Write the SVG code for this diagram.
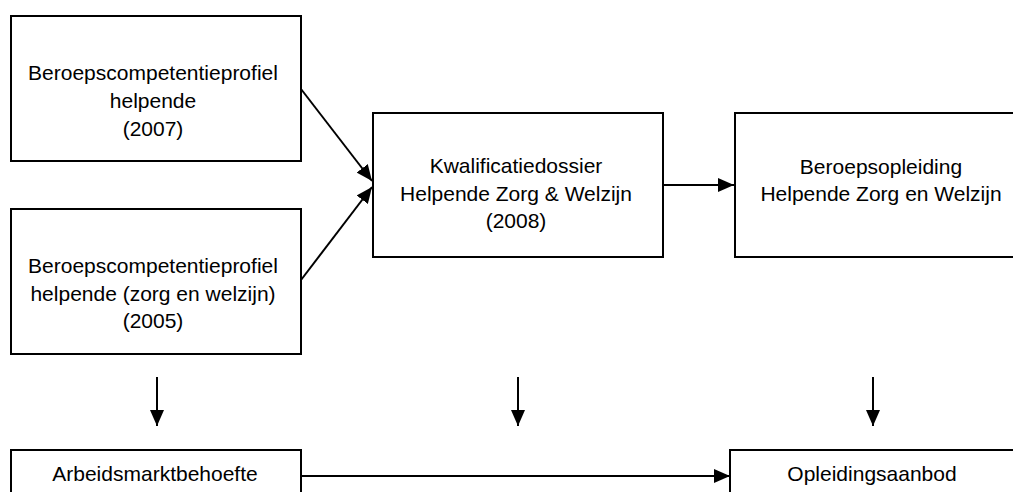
<svg xmlns="http://www.w3.org/2000/svg" width="1013" height="492" viewBox="0 0 1013 492">
<defs>
<style>
.box{fill:#fff;stroke:#000;stroke-width:2}
.t{font-family:"Liberation Sans",Arial,sans-serif;font-size:21px;fill:#000;text-anchor:middle}
.c{stroke:#000;stroke-width:2;fill:none;marker-end:url(#ah)}
</style>
<marker id="ah" markerUnits="userSpaceOnUse" markerWidth="16" markerHeight="14" refX="16" refY="7" orient="auto">
<path d="M0,0 L16,7 L0,14 z" fill="#000"/>
</marker>
</defs>
<rect width="1013" height="492" fill="#fff"/>
<g id="connectors">
<line class="c" x1="301" y1="89" x2="372" y2="181"/>
<line class="c" x1="301" y1="280" x2="372" y2="187"/>
<line class="c" x1="663" y1="185" x2="734" y2="185"/>
<line class="c" x1="157" y1="377" x2="157" y2="426"/>
<line class="c" x1="518" y1="377" x2="518" y2="426"/>
<line class="c" x1="873" y1="377" x2="873" y2="426"/>
<line class="c" x1="301" y1="476" x2="730" y2="476"/>
</g>
<g id="n1">
<rect class="box" x="11" y="16" width="290" height="145"/>
<text class="t" x="153" y="80">Beroepscompetentieprofiel</text>
<text class="t" x="153" y="108">helpende</text>
<text class="t" x="153" y="136">(2007)</text>
</g>
<g id="n2">
<rect class="box" x="11" y="209" width="290" height="145"/>
<text class="t" x="153" y="273">Beroepscompetentieprofiel</text>
<text class="t" x="153" y="301">helpende (zorg en welzijn)</text>
<text class="t" x="153" y="328">(2005)</text>
</g>
<g id="n3">
<rect class="box" x="373" y="113" width="290" height="144"/>
<text class="t" x="516" y="173">Kwalificatiedossier</text>
<text class="t" x="516" y="201">Helpende Zorg &amp; Welzijn</text>
<text class="t" x="516" y="228">(2008)</text>
</g>
<g id="n4">
<rect class="box" x="735" y="113" width="292" height="144"/>
<text class="t" x="881" y="174">Beroepsopleiding</text>
<text class="t" x="881" y="201">Helpende Zorg en Welzijn</text>
</g>
<g id="n5">
<rect class="box" x="11" y="450" width="290" height="60"/>
<text class="t" x="155" y="481">Arbeidsmarktbehoefte</text>
</g>
<g id="n6">
<rect class="box" x="730" y="450" width="300" height="60"/>
<text class="t" x="872" y="481">Opleidingsaanbod</text>
</g>
</svg>
